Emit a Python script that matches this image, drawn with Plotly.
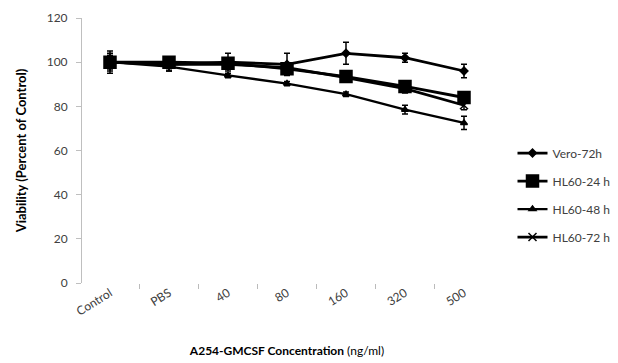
import plotly.graph_objects as go

categories = ["Control", "PBS", "40", "80", "160", "320", "500"]

vero_72h = [100, 99, 100, 99, 104, 102, 96]
vero_72h_err = [5, 3, 4, 5, 5, 2, 3]

hl60_24h = [100, 100, 99.5, 97, 93.5, 89, 84]
hl60_24h_err = [4, 2, 2, 2, 2, 2, 2]

hl60_48h = [100, 98, 94, 90.3, 85.5, 78.5, 72.5]
hl60_48h_err = [3, 2, 1, 1, 1, 2, 3]

hl60_72h = [100, 99, 99, 97.5, 93, 88, 80.5]
hl60_72h_err = [3, 2, 2, 2, 2, 2, 2]

series = [
    ("Vero-72h", vero_72h, vero_72h_err, "diamond", 6, 2.8),
    ("HL60-24 h", hl60_24h, hl60_24h_err, "square", 12, 2.8),
    ("HL60-48 h", hl60_48h, hl60_48h_err, "triangle-up", 6, 2.4),
    ("HL60-72 h", hl60_72h, hl60_72h_err, "x-thin", 8, 2.8),
]

fig = go.Figure()
for i, (name, vals, errs, sym, msize, lw) in enumerate(series):
    fig.add_trace(go.Scatter(
        x=categories, y=vals, name=name, mode="lines+markers",
        legendgroup=f"g{i}",
        line=dict(color="black", width=lw),
        marker=dict(symbol=sym, size=msize, color="black",
                    line=dict(color="black", width=1.5)),
        error_y=dict(type="data", array=errs, visible=True,
                     color="black", thickness=1.5, width=3),
    ))

font_main = "Lato, 'Open Sans', sans-serif"

# page body has an 8px margin, so the figure is sized 8px smaller
fig.update_layout(
    width=610, height=355,
    margin=dict(l=74, r=126, t=10, b=80, autoexpand=False),
    plot_bgcolor="white", paper_bgcolor="white",
    font=dict(family=font_main, size=12, color="#404040"),
    showlegend=True,
    legend=dict(x=1.05, y=0.545, xanchor="left", yanchor="top",
                font=dict(size=12, color="#404040"),
                traceorder="grouped", tracegroupgap=9,
                itemwidth=30,
                bgcolor="rgba(0,0,0,0)"),
    xaxis=dict(
        type="category", showgrid=False, zeroline=False, showline=False,
        automargin=False,
        ticks="outside", tickson="boundaries", ticklen=5, tickcolor="#bbbbbb",
        tickangle=-32, tickfont=dict(size=12, color="#404040"),
        title=dict(text="<b>A254-GMCSF Concentration</b> (ng/ml)",
                   font=dict(size=12, color="black"), standoff=29),
    ),
    yaxis=dict(
        range=[0, 120], dtick=20, showgrid=False, zeroline=False,
        showline=True, linecolor="#bfbfbf", linewidth=1,
        automargin=False,
        ticks="outside", ticklen=5, tickcolor="#bfbfbf",
        ticklabelstandoff=6,
        tickfont=dict(size=12, color="#404040"),
        title=dict(text="<b>Viability (Percent of Control)</b>",
                   font=dict(size=13, color="black"), standoff=17),
    ),
)

fig.write_html("out.html")
